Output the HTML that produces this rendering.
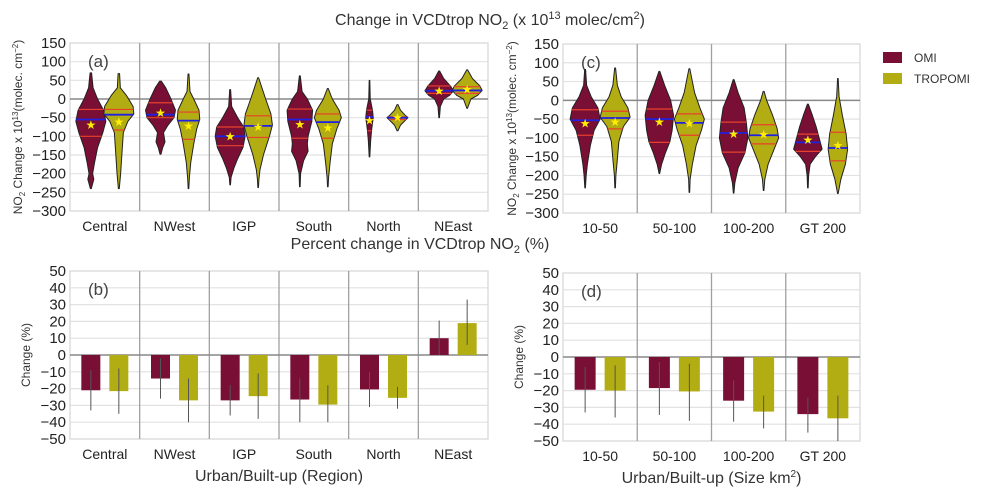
<!DOCTYPE html>
<html><head><meta charset="utf-8"><style>
body{margin:0;background:#fff;}
svg{display:block;font-family:"Liberation Sans",sans-serif;}
</style></head><body>
<svg id="c" width="984" height="495" viewBox="0 0 984 495">
<text x="490" y="25" text-anchor="middle" font-size="16" fill="#333">Change in VCDtrop NO<tspan font-size="11" dy="4">2</tspan><tspan dy="-4"> (x 10</tspan><tspan font-size="11" dy="-6">13</tspan><tspan dy="6"> molec/cm</tspan><tspan font-size="11" dy="-6">2</tspan><tspan dy="6">)</tspan></text>
<text x="420" y="249" text-anchor="middle" font-size="16" fill="#333">Percent change in VCDtrop NO<tspan font-size="11" dy="4">2</tspan><tspan dy="-4"> (%)</tspan></text>
<g>
<rect x="883" y="52" width="19" height="11" fill="#7a0f35"/>
<text x="914" y="62" font-size="12" fill="#333">OMI</text>
<rect x="883" y="73" width="19" height="11" fill="#b3ad14"/>
<text x="914" y="83" font-size="12" fill="#333">TROPOMI</text>
</g>
</svg>
<script>
const regions=["Central","NWest","IGP","South","North","NEast"];
const sizes=["10-50","50-100","100-200","GT 200"];
const violinTicks=[150,100,50,0,-50,-100,-150,-200,-250,-300];
const pctTicks=[50,40,30,20,10,0,-10,-20,-30,-40,-50];
// violin stats: [top, bottom, q3, median, q1, mean]
const aOmiStats=[[70,-240,-28,-55,-100,-70],[48,-148,-10,-42,-50,-38],[25,-230,-75,-100,-125,-100],[62,-235,-27,-55,-105,-68],[50,-155,-30,-48,-85,-57],[75,-50,35,22,15,22]];
const aTropStats=[[68,-240,-28,-42,-83,-62],[67,-240,-35,-58,-108,-72],[57,-237,-45,-72,-103,-75],[28,-235,-40,-62,-105,-78],[-15,-85,-48,-50,-55,-50],[78,-25,33,23,15,25]];
// density profiles [value, relative density]
const aOmiDens=[
[[70,.05],[30,.15],[0,.45],[-30,.85],[-60,1],[-90,.8],[-130,.45],[-170,.25],[-200,.12],[-215,.2],[-240,.03]],
[[48,.05],[30,.35],[0,.7],[-30,1],[-50,.9],[-70,.5],[-90,.2],[-115,.3],[-130,.15],[-148,.03]],
[[25,.03],[-20,.1],[-50,.5],[-75,.9],[-100,1],[-130,.85],[-160,.5],[-185,.25],[-210,.06],[-230,.02]],
[[62,.03],[20,.15],[0,.5],[-30,.85],[-60,.8],[-100,.55],[-120,.5],[-140,.55],[-165,.25],[-200,.05],[-235,.02]],
[[50,.02],[0,.05],[-30,.2],[-50,.25],[-80,.15],[-110,.08],[-155,.02]],
[[75,.03],[55,.3],[35,.75],[22,.95],[10,.7],[0,.3],[-20,.08],[-50,.02]]];
const aTropDens=[
[[68,.05],[30,.1],[10,.5],[-20,.95],[-40,1],[-60,.6],[-90,.3],[-150,.2],[-200,.12],[-240,.03]],
[[67,.03],[20,.1],[0,.35],[-30,.7],[-55,.75],[-80,.55],[-120,.35],[-170,.15],[-210,.06],[-240,.02]],
[[57,.03],[30,.25],[0,.5],[-40,.85],[-70,.95],[-100,.75],[-150,.35],[-190,.12],[-215,.05],[-237,.02]],
[[28,.03],[0,.3],[-30,.75],[-50,.9],[-80,.6],[-120,.3],[-170,.15],[-210,.05],[-235,.02]],
[[-15,.03],[-30,.2],[-45,.55],[-50,.7],[-58,.5],[-70,.2],[-85,.03]],
[[78,.03],[55,.35],[35,.85],[23,1],[10,.7],[0,.25],[-25,.02]]];
const cOmiStats=[[82,-233,-25,-53,-93,-62],[77,-195,-23,-50,-112,-58],[55,-247,-58,-87,-138,-89],[-10,-233,-90,-112,-136,-105]];
const cTropStats=[[86,-233,-29,-47,-76,-58],[84,-245,-36,-60,-93,-62],[24,-240,-65,-93,-116,-91],[58,-248,-85,-127,-161,-120]];
const cOmiDens=[
[[82,.03],[40,.1],[10,.4],[-20,.85],[-50,1],[-80,.6],[-120,.35],[-170,.15],[-200,.07],[-233,.02]],
[[77,.03],[40,.35],[0,.75],[-40,.95],[-80,.85],[-110,.7],[-140,.4],[-170,.15],[-195,.02]],
[[55,.03],[20,.3],[-20,.7],[-60,.85],[-100,.95],[-140,.75],[-180,.3],[-220,.08],[-247,.02]],
[[-10,.03],[-40,.3],[-70,.55],[-100,.75],[-130,.95],[-150,.5],[-170,.15],[-200,.05],[-233,.02]]];
const cTropDens=[
[[86,.03],[40,.15],[10,.4],[-20,.85],[-45,1],[-70,.55],[-110,.25],[-170,.12],[-200,.05],[-233,.02]],
[[84,.03],[50,.2],[20,.35],[-20,.7],[-50,1],[-80,.8],[-120,.45],[-170,.2],[-210,.05],[-245,.02]],
[[24,.03],[0,.2],[-40,.6],[-75,.9],[-100,1],[-130,.7],[-170,.3],[-210,.08],[-240,.02]],
[[58,.02],[10,.08],[-40,.3],[-90,.55],[-130,.65],[-170,.5],[-210,.2],[-248,.02]]];
const bOmi=[-21,-14,-27,-26.5,-20.5,10];
const bTrop=[-21.5,-27,-24.5,-29.5,-25.5,19];
const bOmiErr=[[-9,-33],[-2,-26],[-18,-36],[-14,-40],[-10,-31],[0,20.5]];
const bTropErr=[[-8,-35],[-14,-40],[-11,-38],[-18,-40],[-19,-32],[6,33]];
const dOmi=[-19.5,-18.5,-26,-34];
const dTrop=[-20,-20.5,-32.5,-36.5];
const dOmiErr=[[-6,-33],[-3,-34.5],[-14,-38.5],[-24,-45]];
const dTropErr=[[-5,-36],[-4,-38],[-23,-42.5],[-23,-50]];

const NS="http://www.w3.org/2000/svg";
const svg=document.getElementById('c');
const OMI="#7a0f35",TRO="#b3ad14";
function mk(tag,attrs,parent,txt){const e=document.createElementNS(NS,tag);for(const k in attrs)e.setAttribute(k,attrs[k]);if(txt!=null)e.textContent=txt;(parent||svg).appendChild(e);return e;}

function panel(p){
  const g=mk('g',{});
  
  
  const y=v=>p.y0+(p.vmax-v)/(p.vmax-p.vmin)*(p.y1-p.y0);
  const cw=(p.x1-p.x0)/p.cats.length;
  const cx=i=>p.x0+cw*(i+0.5);
  p.ticks.forEach(t=>{
    if(t!==p.vmax&&t!==p.vmin&&t!==0){const l=mk('line',{x1:p.x0,x2:p.x1,y1:y(t),y2:y(t),stroke:'#e2e2e2','stroke-width':1.2},g);
    }
    const tl=mk('text',{x:p.x0-4,y:y(t)+5,'text-anchor':'end','font-size':15,fill:'#222'},g,t<0?'\u2212'+(-t):String(t));
    
  });
  const fr=mk('rect',{x:p.x0,y:p.y0,width:p.x1-p.x0,height:p.y1-p.y0,fill:'none',stroke:'#d8d8d8','stroke-width':1.3},g);
  
  for(let i=1;i<p.cats.length;i++){const s=mk('line',{x1:p.x0+cw*i,x2:p.x0+cw*i,y1:p.y0,y2:p.y1,stroke:'#a0a0a0','stroke-width':1.3},g);
    }
  const z=mk('line',{x1:p.x0,x2:p.x1,y1:y(0),y2:y(0),stroke:'#888','stroke-width':1.5},g);
  
  p.cats.forEach((c,i)=>{const t=mk('text',{x:cx(i),y:p.y1+20,'text-anchor':'middle','font-size':14,fill:'#222'},g,c);
    });
  const lt=mk('text',{x:p.x0+18,y:p.y0+24,'font-size':17,fill:'#444'},g,'('+p.id+')');
  
  const yl=mk('text',{transform:`translate(${p.ylx},${(p.y0+p.y1)/2}) rotate(-90)`,'text-anchor':'middle','font-size':p.ylfs,fill:'#333'},g);
  
  yl.innerHTML=p.ylab;
  if(p.xlab){const xl=mk('text',{x:(p.x0+p.x1)/2,y:p.y1+42,'text-anchor':'middle','font-size':16,fill:'#333'},g);
    xl.innerHTML=p.xlab;}
  return {g,y,cx};
}

function violins(P,stats,dens,off,col,name,maxW){
  stats.forEach((s,i)=>{
    const c=P.cx(i)+off;
    const pts=dens[i];
    let d='M'+pts.map(q=>(c+q[1]*maxW)+','+P.y(q[0])).join('L');
    d+='L'+pts.slice().reverse().map(q=>(c-q[1]*maxW)+','+P.y(q[0])).join('L')+'Z';
    const path=mk('path',{d:d,fill:col,stroke:'#222','stroke-width':1,'stroke-linejoin':'round'},P.g);
    
    const wAt=v=>{for(let k=0;k<pts.length-1;k++){const a=pts[k],b=pts[k+1];if(v<=a[0]&&v>=b[0]){const t=(a[0]-v)/(a[0]-b[0]||1);return (a[1]+(b[1]-a[1])*t)*maxW;}}return 2;};
    [[s[2],'#e8402a','quartile-line'],[s[3],'#2020e0','median-line'],[s[4],'#e8402a','quartile-line']].forEach(q=>{
      const w=wAt(q[0]);
      const l=mk('line',{x1:c-w,x2:c+w,y1:P.y(q[0]),y2:P.y(q[0]),stroke:q[1],'stroke-width':q[2]==='median-line'?1.8:1.2},P.g);
      
    });
    const st=mk('text',{x:c,y:P.y(s[5])+4,'text-anchor':'middle','font-size':12,fill:'#ffee00'},P.g,'\u2605');
    
  });
}
function bars(P,vals,errs,off,col,name,bw){
  vals.forEach((v,i)=>{
    const c=P.cx(i)+off;
    const r=mk('rect',{x:c-bw/2,y:Math.min(P.y(v),P.y(0)),width:bw,height:Math.abs(P.y(v)-P.y(0)),fill:col},P.g);
    
    const e=mk('line',{x1:c,x2:c,y1:P.y(errs[i][0]),y2:P.y(errs[i][1]),stroke:'#555','stroke-width':1},P.g);
    
  });
}
const no2lab='NO<tspan font-size="8" dy="3">2</tspan><tspan dy="-3"> Change x 10</tspan><tspan font-size="8" dy="-4">13</tspan><tspan dy="4">(molec. cm</tspan><tspan font-size="8" dy="-4">\u22122</tspan><tspan dy="4">)</tspan>';
const A=panel({id:'a',x0:70,x1:488,y0:43,y1:211,vmax:150,vmin:-300,ticks:violinTicks,cats:regions,ylx:22,ylfs:12,ylab:no2lab});
violins(A,aOmiStats,aOmiDens,-14,OMI,'omi',15);
violins(A,aTropStats,aTropDens,14,TRO,'tropomi',15);
const C=panel({id:'c',x0:563,x1:860,y0:44,y1:213,vmax:150,vmin:-300,ticks:violinTicks,cats:sizes,ylx:516,ylfs:12,ylab:no2lab});
violins(C,cOmiStats,cOmiDens,-15,OMI,'omi',15);
violins(C,cTropStats,cTropDens,15,TRO,'tropomi',15);
const B=panel({id:'b',x0:70,x1:488,y0:271,y1:439,vmax:50,vmin:-50,ticks:pctTicks,cats:regions,ylx:30,ylfs:12,ylab:'Change (%)',xlab:'Urban/Built-up (Region)'});
bars(B,bOmi,bOmiErr,-14,OMI,'omi',19);
bars(B,bTrop,bTropErr,14,TRO,'tropomi',19);
const D=panel({id:'d',x0:563,x1:860,y0:273,y1:441,vmax:50,vmin:-50,ticks:pctTicks,cats:sizes,ylx:523,ylfs:12,ylab:'Change (%)',xlab:'Urban/Built-up (Size km<tspan font-size="10" dy="-6">2</tspan><tspan dy="6">)</tspan>'});
bars(D,dOmi,dOmiErr,-15,OMI,'omi',21);
bars(D,dTrop,dTropErr,15,TRO,'tropomi',21);
</script>
</body></html>
